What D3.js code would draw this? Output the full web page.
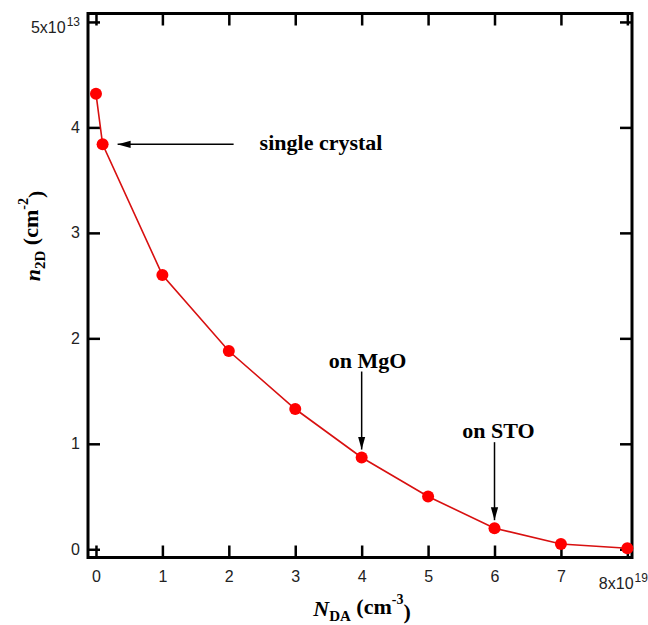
<!DOCTYPE html>
<html>
<head>
<meta charset="utf-8">
<script src="https://cdn.jsdelivr.net/npm/d3@7"></script>
<style>
  body { margin: 0; background: #fff; }
  .tick text { font-family: "Liberation Sans", Arial, sans-serif; font-size: 16px; fill: #222; }
  .lbl { font-family: "Liberation Serif", "Times New Roman", serif; font-weight: bold; fill: #000; }
</style>
</head>
<body>
<div id="chart"></div>
<script>
// data
var nDA = [0, 0.1, 1, 2, 3, 4, 5, 6, 7, 8];           // x10^19 cm^-3
var n2D = [4.32, 3.84, 2.60, 1.88, 1.33, 0.87, 0.50, 0.20, 0.05, 0.01]; // x10^13 cm^-2
var xTicks = [0, 1, 2, 3, 4, 5, 6, 7, 8];
var yTicks = [0, 1, 2, 3, 4, 5];
var notes = [
  {text: "single crystal", x: 0.1, y: 3.84, dir: "left", dx: 0},
  {text: "on MgO", x: 4, y: 0.87, dir: "down", dx: 6},
  {text: "on STO", x: 6, y: 0.20, dir: "down", dx: 4}
];

var W = 648, H = 625;
var svg = d3.select("#chart").append("svg").attr("width", W).attr("height", H);

var x = d3.scaleLinear().domain([-0.12, 8.07]).range([88, 632]);
var y = d3.scaleLinear().domain([-0.078, 5.08]).range([557.5, 13.5]);

var defs = svg.append("defs");
defs.append("marker").attr("id", "arr")
  .attr("viewBox", "0 0 10 10").attr("refX", 10).attr("refY", 5)
  .attr("markerWidth", 13).attr("markerHeight", 13).attr("markerUnits", "userSpaceOnUse")
  .attr("orient", "auto")
  .append("path").attr("d", "M0,2.2 L10,5 L0,7.8 Z").attr("fill", "#000");

// axes, ticks pointing inward on all four sides
function styleAxis(g) {
  g.select(".domain").remove();
  g.selectAll(".tick line").attr("stroke", "#000").attr("stroke-width", 2.5);
}
var gx = svg.append("g").attr("transform", "translate(0,557.5)")
  .call(d3.axisBottom(x).tickValues(xTicks).tickSizeInner(-12).tickSizeOuter(0).tickPadding(13.5).tickFormat(d3.format("d")))
  .call(styleAxis);
svg.append("g").attr("transform", "translate(0,13.5)")
  .call(d3.axisTop(x).tickValues(xTicks).tickSizeInner(-12).tickSizeOuter(0).tickFormat(""))
  .call(styleAxis);
var gy = svg.append("g").attr("transform", "translate(88,0)")
  .call(d3.axisLeft(y).tickValues(yTicks).tickSizeInner(-12).tickSizeOuter(0).tickPadding(8).tickFormat(d3.format("d")))
  .call(styleAxis);
svg.append("g").attr("transform", "translate(632,0)")
  .call(d3.axisRight(y).tickValues(yTicks).tickSizeInner(-12).tickSizeOuter(0).tickFormat(""))
  .call(styleAxis);

// exponent on the last tick labels
function expLabel(sel, base, exp, dy) {
  sel.text(null).attr("dy", null);
  sel.append("tspan").attr("dy", dy).text(base);
  sel.append("tspan").attr("dy", "-0.55em").attr("dx", 1).attr("font-size", "12px").text(exp);
}
gx.selectAll(".tick text").filter(function(d) { return d === 8; })
  .attr("text-anchor", "start").attr("x", -29).call(expLabel, "8x10", "19", "1.1em");
gy.selectAll(".tick text").filter(function(d) { return d === 5; })
  .call(expLabel, "5x10", "13", "0.64em");

// frame
svg.append("rect").attr("x", 88).attr("y", 13.5).attr("width", 544).attr("height", 544)
  .attr("fill", "none").attr("stroke", "#000").attr("stroke-width", 3);

// curve and points
var pts = nDA.map(function(v, i) { return [v, n2D[i]]; });
svg.append("path").datum(pts)
  .attr("d", d3.line().x(function(d) { return x(d[0]); }).y(function(d) { return y(d[1]); }))
  .attr("fill", "none").attr("stroke", "#d81010").attr("stroke-width", 1.6);
svg.selectAll(".pt").data(pts).enter().append("circle").attr("class", "pt")
  .attr("cx", function(d) { return x(d[0]); }).attr("cy", function(d) { return y(d[1]); })
  .attr("r", 6).attr("fill", "#ff0000");

// annotations
notes.forEach(function(n) {
  var px = x(n.x), py = y(n.y);
  if (n.dir === "left") {
    svg.append("line").attr("x1", px + 131).attr("y1", py).attr("x2", px + 15).attr("y2", py)
      .attr("stroke", "#000").attr("stroke-width", 1.5).attr("marker-end", "url(#arr)");
    svg.append("text").attr("class", "lbl").attr("x", px + 157).attr("y", py + 6)
      .attr("font-size", "22px").text(n.text);
  } else {
    svg.append("line").attr("x1", px).attr("y1", py - 86).attr("x2", px).attr("y2", py - 8)
      .attr("stroke", "#000").attr("stroke-width", 1.5).attr("marker-end", "url(#arr)");
    svg.append("text").attr("class", "lbl").attr("x", px + n.dx).attr("y", py - 90)
      .attr("text-anchor", "middle").attr("font-size", "22px").text(n.text);
  }
});

// axis titles
var xt = svg.append("text").attr("class", "lbl").attr("x", 362).attr("y", 616)
  .attr("text-anchor", "middle").attr("font-size", "22px");
xt.append("tspan").attr("font-style", "italic").text("N");
xt.append("tspan").attr("font-size", "15px").attr("dy", "0.35em").text("DA");
xt.append("tspan").attr("dy", "-0.35em").text(" (cm");
xt.append("tspan").attr("font-size", "14px").attr("dy", "-0.7em").text("-3");
xt.append("tspan").attr("dy", "0.7em").text(")");

var yt = svg.append("text").attr("class", "lbl")
  .attr("transform", "translate(40,236) rotate(-90)")
  .attr("text-anchor", "middle").attr("font-size", "22px");
yt.append("tspan").attr("font-style", "italic").text("n");
yt.append("tspan").attr("font-size", "15px").attr("dy", "0.35em").text("2D");
yt.append("tspan").attr("dy", "-0.35em").text(" (cm");
yt.append("tspan").attr("font-size", "14px").attr("dy", "-0.7em").text("-2");
yt.append("tspan").attr("dy", "0.7em").text(")");
</script>
</body>
</html>
